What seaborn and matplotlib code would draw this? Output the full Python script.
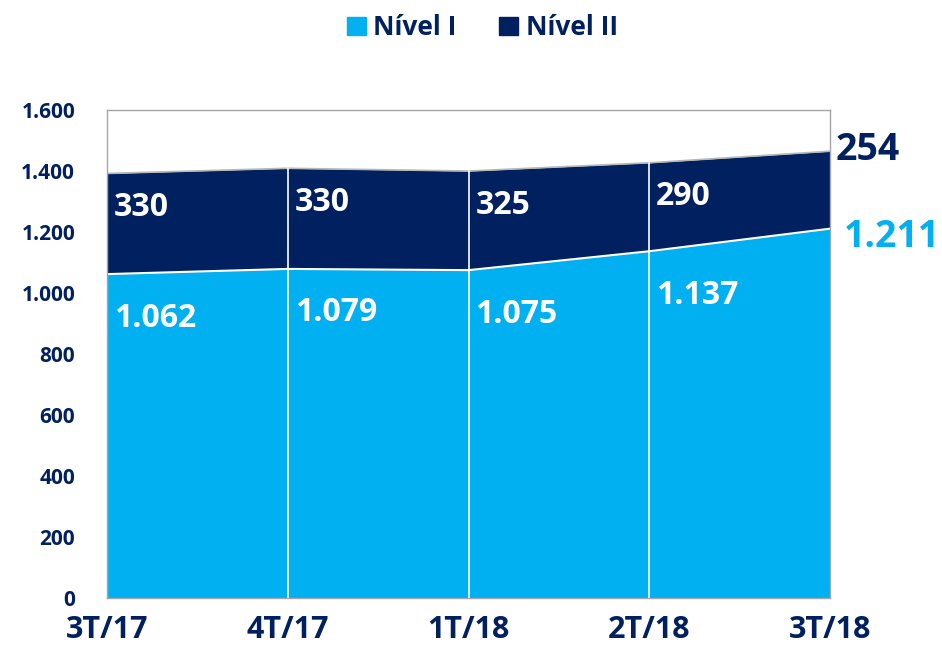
import matplotlib
matplotlib.use("Agg")
import matplotlib.pyplot as plt
import numpy as np
import pandas as pd
import seaborn as sns
from matplotlib.patches import Patch
from matplotlib.transforms import offset_copy

quarters = ["3T/17", "4T/17", "1T/18", "2T/18", "3T/18"]
nivel1 = [1062, 1079, 1075, 1137, 1211]
nivel2 = [330, 330, 325, 290, 254]
yticks = [0, 200, 400, 600, 800, 1000, 1200, 1400, 1600]

light = "#00B0F0"
navy = "#002060"

sns.set_theme(style="white")
plt.rcParams["font.family"] = ["Open Sans", "DejaVu Sans"]
plt.rcParams["font.weight"] = "bold"

df = pd.DataFrame({"q": quarters, "n1": nivel1, "n2": nivel2})
df["x"] = np.arange(len(df))
df["tot"] = df["n1"] + df["n2"]

fig = plt.figure(figsize=(9.42, 6.62), dpi=100)
ax = fig.add_axes([0.1136, 0.0967, 0.7675, 0.7371])

ax.fill_between(df["x"], 0, df["n1"], color=light, lw=0)
ax.fill_between(df["x"], df["n1"], df["tot"], color=navy, lw=0)
sns.lineplot(data=df, x="x", y="n1", color="white", lw=1.5, ax=ax)
sns.lineplot(data=df, x="x", y="tot", color="#B8B8B8", lw=1.2, ax=ax)
for i in range(1, len(df) - 1):
    ax.plot([df["x"][i]] * 2, [0, df["tot"][i]], color="white", lw=1.2)

ax.set_xlim(0, len(df) - 1)
ax.set_ylim(0, 1600)
ax.set_xticks(df["x"])
ax.set_xticklabels(quarters, fontsize=22, color=navy, fontweight="bold")
ax.set_yticks(yticks)
ax.set_yticklabels([f"{v:,}".replace(",", ".") for v in yticks],
                   fontsize=15, color=navy, fontweight="bold")
ax.tick_params(axis="x", pad=12, length=0)
ax.tick_params(axis="y", pad=23, length=0)
ax.set_xlabel("")
ax.set_ylabel("")
for s in ax.spines.values():
    s.set_color("#A6A6A6")
    s.set_linewidth(1)

fmt = lambda v: f"{v:,}".replace(",", ".")
last = len(df) - 1
for i, r in df.iterrows():
    if i < last:
        t1 = offset_copy(ax.transData, fig=fig, x=7, y=-44, units="dots")
        ax.text(r["x"], r["n1"], fmt(r["n1"]), transform=t1, color="white",
                fontsize=23, fontweight="bold", ha="left", va="center")
        t2 = offset_copy(ax.transData, fig=fig, x=7, y=-34, units="dots")
        ax.text(r["x"], r["tot"], fmt(r["n2"]), transform=t2, color="white",
                fontsize=23, fontweight="bold", ha="left", va="center")
    else:
        t1 = offset_copy(ax.transData, fig=fig, x=14, y=-8, units="dots")
        ax.text(r["x"], r["n1"], fmt(r["n1"]), transform=t1, color=light,
                fontsize=27, fontweight="bold", ha="left", va="center")
        t2 = offset_copy(ax.transData, fig=fig, x=6, y=1, units="dots")
        ax.text(r["x"], r["tot"], fmt(r["n2"]), transform=t2, color=navy,
                fontsize=27, fontweight="bold", ha="left", va="center")

handles = [Patch(color=light, label="Nível I"), Patch(color=navy, label="Nível II")]
fig.legend(handles=handles, loc="center", bbox_to_anchor=(0.512, 0.958), ncol=2,
           frameon=False, prop={"size": 19, "weight": "bold"},
           labelcolor=navy, handlelength=0.72, handleheight=0.72,
           columnspacing=1.6, handletextpad=0.3)

fig.savefig("out.png", dpi=100)
